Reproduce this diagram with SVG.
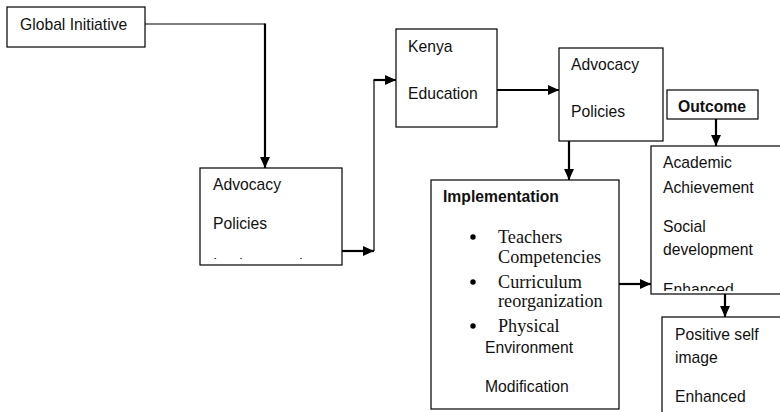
<svg xmlns="http://www.w3.org/2000/svg" width="780" height="412" viewBox="0 0 780 412">
<defs>
<marker id="arr" markerUnits="userSpaceOnUse" markerWidth="11" markerHeight="11" viewBox="0 0 10 10" refX="10" refY="5" orient="auto">
<path d="M0,0.5 L10,5 L0,9.5 Z" fill="#000"/>
</marker>
<clipPath id="clipAdv1"><rect x="200" y="168" width="142" height="91"/></clipPath>
<clipPath id="clipAcad"><rect x="651" y="146" width="140" height="145"/></clipPath>
</defs>
<style>
.box{fill:#fff;stroke:#000;stroke-width:1.2}
.t{font-family:"Liberation Sans",Arial,sans-serif;font-size:15.7px;fill:#111}
.b{font-weight:bold}
.s{font-family:"Liberation Serif","Times New Roman",serif;font-size:18.2px;fill:#111}
.c{fill:none;stroke:#000;stroke-width:2.2}
.thin{fill:none;stroke:#000;stroke-width:1.2}
</style>
<rect width="780" height="412" fill="#fff"/>
<g id="connectors">
<path class="thin" d="M145,24 H265"/>
<path class="c" d="M265,23.5 V168" marker-end="url(#arr)"/>
<path class="c" d="M342,251 H374" marker-end="url(#arr)"/>
<path class="thin" d="M374,251 V80"/>
<path class="c" d="M373.5,80 H396" marker-end="url(#arr)"/>
<path class="c" d="M497,90 H559" marker-end="url(#arr)"/>
<path class="c" d="M569,141 V180" marker-end="url(#arr)"/>
<path class="c" d="M716,119 V146" marker-end="url(#arr)"/>
<path class="c" d="M619,284 H651" marker-end="url(#arr)"/>
<path class="c" d="M725,294 V317" marker-end="url(#arr)"/>
</g>
<g id="global-initiative">
<rect class="box" x="7" y="7" width="138" height="40"/>
<text class="t" x="20" y="30">Global Initiative</text>
</g>
<g id="advocacy-1">
<rect class="box" x="200" y="168" width="142" height="97"/>
<text class="t" x="213" y="190">Advocacy</text>
<text class="t" x="213" y="229">Policies</text>
<text class="t" x="213" y="269.5" clip-path="url(#clipAdv1)">Implementation</text>
</g>
<g id="kenya-education">
<rect class="box" x="396" y="29" width="101" height="98"/>
<text class="t" x="408" y="52">Kenya</text>
<text class="t" x="408" y="99">Education</text>
</g>
<g id="advocacy-2">
<rect class="box" x="559" y="48" width="104" height="93"/>
<text class="t" x="571" y="70">Advocacy</text>
<text class="t" x="571" y="117">Policies</text>
</g>
<g id="outcome">
<rect class="box" x="667" y="90" width="91" height="29"/>
<text class="t b" x="712" y="112" text-anchor="middle">Outcome</text>
</g>
<g id="implementation">
<rect class="box" x="431" y="180" width="188" height="229"/>
<text class="t b" x="443" y="202">Implementation</text>
<circle cx="473" cy="237" r="2.7" fill="#000"/>
<text class="s" x="498" y="243">Teachers</text>
<text class="s" x="498" y="263">Competencies</text>
<circle cx="473" cy="282" r="2.7" fill="#000"/>
<text class="s" x="498" y="288">Curriculum</text>
<text class="s" x="498" y="307">reorganization</text>
<circle cx="473" cy="326" r="2.7" fill="#000"/>
<text class="s" x="498" y="332">Physical</text>
<text class="t" x="485" y="353">Environment</text>
<text class="t" x="485" y="392">Modification</text>
</g>
<g id="academic">
<rect class="box" x="651" y="146" width="140" height="148"/>
<text class="t" x="663" y="168">Academic</text>
<text class="t" x="663" y="193">Achievement</text>
<text class="t" x="663" y="232">Social</text>
<text class="t" x="663" y="255">development</text>
<text class="t" x="663" y="295" clip-path="url(#clipAcad)">Enhanced</text>
</g>
<g id="positive-self-image">
<rect class="box" x="662" y="317" width="130" height="110"/>
<text class="t" x="675" y="340">Positive self</text>
<text class="t" x="675" y="363">image</text>
<text class="t" x="675" y="402">Enhanced</text>
</g>
</svg>
